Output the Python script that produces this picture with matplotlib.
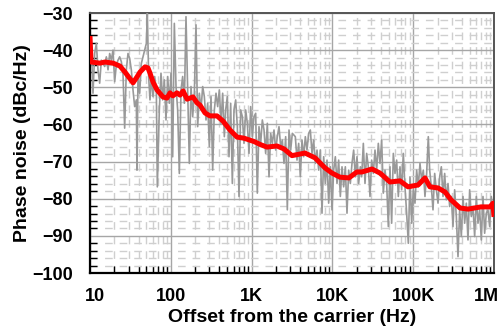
import matplotlib
matplotlib.use("Agg")
import matplotlib.pyplot as plt
import matplotlib.transforms as mtransforms
from matplotlib.ticker import FixedLocator, LogLocator, NullFormatter, MultipleLocator

plt.rcParams['font.family'] = ['Liberation Sans', 'DejaVu Sans']
plt.rcParams['font.weight'] = 'bold'
plt.rcParams['lines.scale_dashes'] = False

raw_freq = [10, 10.39, 10.89, 11.42, 11.98, 12.56, 13.17, 13.81, 14.49, 15.19, 15.93,
            16.71, 17.52, 18.37, 19.26, 20.20, 21.18, 22.21, 23.29, 24.42, 25.61,
            26.85, 28.16, 29.53, 30.97, 32.47, 34.05, 35.71, 37.45, 38.16, 39.26,
            41.17, 43.18, 45.28, 47.48, 49.79, 51.23, 53.21, 55.27, 57.41, 60.21,
            63.14, 66.21, 68.13,
            72.1, 75.6, 79.3, 83.2, 87.2, 91.5, 95.9, 100.6, 105.5, 110.6, 116.0,
            121.6, 127.5, 133.8, 140.2, 147.1, 154.2, 161.7, 169.6, 177.8, 186.5,
            195.6, 205.1, 215.1, 225.5, 236.5, 248.0, 260.0, 272.7, 286.0, 299.9,
            314.5, 329.8, 345.8, 362.6, 380.2, 398.7, 418.1, 438.4, 459.8,
            477.5, 500.8, 525.2, 550.7, 577.5, 605.6, 635.1, 666.0, 698.3, 732.3,
            767.9, 805.3, 844.4, 885.5, 928.6, 973.6, 1021, 1071, 1123, 1177, 1234,
            1295, 1358, 1424, 1493, 1566, 1642, 1722, 1805, 1893, 1986, 2082, 2183,
            2289, 2401, 2517, 2640, 2768, 2903, 3044, 3192,
            3477, 3647, 3824, 4010, 4205, 4410, 4624, 4849, 5085, 5332, 5591, 5863,
            6149, 6448, 6761, 7090, 7435, 7797, 8176, 8574, 8991, 9428, 9886,
            10367, 10871, 11400, 11954, 12536, 13146, 13785, 14454, 15158, 15895,
            16668, 17478, 18329, 19220, 20155, 21135, 22162,
            23025, 24144, 25318, 26549, 27840, 29193, 30613, 32101, 33662, 35298,
            37015, 38814, 40701, 42680, 44755, 46931, 49213, 51606, 54115, 56746,
            59505, 62398, 65432, 68613, 71949, 75447, 79115, 82962, 86995, 91225,
            95661, 100312, 105189, 110304, 115667, 121291, 127188, 133371, 139856,
            146656, 153787,
            159900, 167700, 175800, 184400, 193400, 202800, 212600, 222900, 233800,
            245100, 257000, 269600, 282700, 296400, 310800, 325900, 341800, 358400,
            375800, 394100, 413300, 433400, 454400, 476500, 499700, 524000, 549500,
            576200, 604200, 633600, 664400, 696700, 730600, 766100, 803400, 842500,
            883400, 926400, 971600, 1000000]
raw_dbc = [-41.0, -39.1, -51.6, -40.9, -38.2, -45.3, -48.9, -42.7, -43.6, -44.4, -41.8,
           -45.3, -40.9, -42.7, -40.0, -48.5, -44.0, -42.7, -41.8, -43.1, -46.2,
           -61.0, -45.3, -40.9, -42.2, -45.3, -50.7, -55.2, -53.4, -72.3, -47.1,
           -51.6, -43.6, -41.8, -40.0, -38.2, -30.1, -47.1, -53.4, -47.1, -52.5,
           -47.1, -50.7, -76.8,
           -56.1, -46.2, -53.4, -48.0, -58.8, -47.1, -54.3, -46.2, -68.7, -32.8, -49.8,
           -56.1, -73.2, -50.7, -47.1, -54.3, -31.0, -50.7, -70.5, -49.8, -57.9,
           -51.6, -33.2, -60.6, -51.6, -56.1, -49.8, -52.5, -58.8, -54.3, -66.0,
           -52.5, -72.3, -56.1, -51.6, -55.2, -50.7, -59.7, -51.6, -63.3,
           -56.1, -52.5, -68.7, -54.3, -75.9, -56.1, -53.4, -60.6, -79.4, -56.1,
           -57.9, -65.1, -56.1, -59.7, -67.8, -55.2, -63.3, -57.9, -57.0, -78.5, -60.6,
           -65.1, -58.8, -61.5, -67.8, -59.7, -74.1, -62.4, -65.1, -61.5, -66.9, -63.3,
           -60.6, -66.0, -64.2, -70.5, -63.3, -83.0, -61.5, -66.9, -62.4,
           -63.3, -69.6, -65.1, -74.1, -64.2, -68.7, -63.3, -66.9, -62.4, -61.5, -67.8,
           -64.2, -70.5, -66.9, -72.3, -66.9, -83.9, -68.7, -75.9, -69.6, -81.2, -71.4,
           -83.0, -72.3, -68.7, -75.9, -69.6, -79.4, -71.4, -76.8, -71.4, -83.9,
           -72.3, -75.9, -70.5, -66.9, -74.1, -68.7, -75.9, -71.4,
           -74.1, -65.1, -75.9, -67.8, -71.4, -79.4, -69.6, -73.2, -66.9, -72.3,
           -65.1, -70.5, -64.2, -78.5, -72.3, -75.9, -87.5, -71.4, -86.6, -67.8,
           -73.2, -69.6, -79.4, -71.4, -77.6, -67.8, -76.8, -83.9, -92.0, -74.1,
           -86.6, -77.6, -81.2, -72.3, -76.8, -70.5, -75.0, -72.3, -79.4, -73.2,
           -63.3,
           -72.3, -76.8, -83.0, -73.2, -77.6, -81.2, -74.1, -71.4, -79.4,
           -73.2, -80.3, -75.9, -82.1, -79.4, -87.5, -77.6, -84.8, -95.6,
           -83.0, -90.2, -79.4, -86.6, -81.2, -91.1, -77.6, -84.8, -82.1,
           -90.2, -79.4, -86.6, -83.0, -91.1, -79.4, -89.3, -83.9, -83.0,
           -87.5, -79.4, -84.8, -83.0]

# smoothed trace (red)
avg_freq = [10, 10.3, 13.3, 15.3, 19.3, 23.5, 27.1, 34.1, 38.2, 41.6, 48, 52.2, 55.3,
            60.3, 67.5, 80, 89.7, 97.8, 106, 119, 130, 142, 159, 188, 211, 230, 265,
            305, 373, 443, 540, 660, 805, 1070, 1310, 1550, 2060, 2520, 3160, 4580,
            6100, 8100, 9890, 12400, 16000, 20100, 23200, 30900, 38800, 51600,
            68700, 86300, 115000, 140000, 161000, 203000, 248000, 294000, 380000,
            477000, 690000, 891000, 972000, 1000000]
avg_dbc = [-36.2, -43.2, -43.5, -43.2, -43.5, -44.3, -45.9, -48.8, -47.2, -45.9,
           -44.5, -44.8, -46.2, -48.6, -50.7, -52.6, -52.9, -51.5, -52.3, -51.5,
           -52.1, -51.0, -53.2, -52.6, -54.2, -54.8, -56.9, -57.7, -57.7, -59.1,
           -61.5, -63.4, -63.7, -64.6, -65.5, -66.1, -65.8, -66.6, -68.4, -67.7,
           -69.0, -71.7, -73.1, -74.2, -74.4, -72.8, -72.8, -72.0, -73.1, -75.5,
           -75.2, -76.8, -76.3, -74.4, -76.8, -77.1, -78.2, -80.3, -82.5, -82.8,
           -82.2, -82.2, -81.2, -84.9]

x_ticks = [10, 100, 1e3, 1e4, 1e5, 1e6]
x_labels = ['10', '100', '1K', '10K', '100K', '1M']
y_ticks = [-100, -90, -80, -70, -60, -50, -40, -30]

fig = plt.figure(figsize=(5.03, 3.33), dpi=100)
ax = fig.add_axes([90 / 503, 60 / 333, 404 / 503, 260 / 333])

ax.plot(raw_freq, raw_dbc, color='#999999', lw=1.2, zorder=3)
ax.plot(avg_freq, avg_dbc, color='#ff0000', lw=3.6, zorder=4,
        solid_joinstyle='round', solid_capstyle='butt')

ax.set_xscale('log')
ax.set_xlim(10, 1e6)
ax.set_ylim(-100, -30)

ax.xaxis.set_major_locator(FixedLocator(x_ticks))
ax.set_xticklabels(x_labels)
ax.xaxis.set_minor_locator(LogLocator(base=10, subs=range(2, 10)))
ax.xaxis.set_minor_formatter(NullFormatter())
ax.set_yticks(y_ticks)
ax.yaxis.set_minor_locator(MultipleLocator(2))

ax.grid(which='major', color='#a6a6a6', lw=1.0, ls='-', zorder=1)
ax.grid(which='minor', color='#cfcfcf', lw=1.0, ls=(0, (5.5, 5.0)), zorder=1)
ax.set_axisbelow(True)

ax.tick_params(which='both', direction='in', length=5, width=1, color='black',
               top=False, right=False)
ax.tick_params(which='major', length=0, labelsize=13)
ax.tick_params(axis='y', which='major', pad=12)
ax.tick_params(axis='x', which='major', pad=11)

for sp in ['left', 'bottom']:
    ax.spines[sp].set_linewidth(1.6)
    ax.spines[sp].set_color('black')
for sp in ['top', 'right']:
    ax.spines[sp].set_linewidth(1.4)
    ax.spines[sp].set_color('#555555')

labs = ax.get_xticklabels()
labs[0].set_transform(labs[0].get_transform() +
                      mtransforms.ScaledTranslation(0.05, 0, fig.dpi_scale_trans))
labs[-1].set_transform(labs[-1].get_transform() +
                       mtransforms.ScaledTranslation(-0.08, 0, fig.dpi_scale_trans))

ax.set_xlabel('Offset from the carrier (Hz)', fontsize=14, fontweight='bold', labelpad=3)
ax.set_ylabel('Phase noise (dBc/Hz)', fontsize=14, fontweight='bold', labelpad=1)

fig.savefig('out.png', dpi=100)
